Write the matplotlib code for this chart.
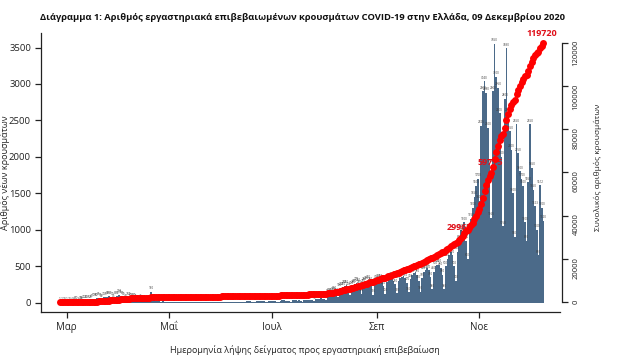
import matplotlib
matplotlib.use('Agg')
import matplotlib.pyplot as plt
import matplotlib.dates as mdates
import numpy as np
import pandas as pd

plt.rcParams['font.family'] = ['Open Sans', 'DejaVu Sans']

# ---------------- data ----------------
start_date = '2020-02-26'
end_date = '2020-12-09'

feb = [1, 2, 1, 0]
mar = [1, 2, 3, 4, 6, 8, 10, 6, 14, 18, 22, 26, 30, 35, 25, 45, 50, 55, 60, 65, 55,
       40, 70, 75, 80, 85, 80, 70, 45, 80, 90]
apr = [110, 95, 85, 70, 40, 75, 70, 60, 55, 50, 45, 25, 35, 40, 30, 25, 20, 18,
       12, 150, 25, 30, 20, 18, 15, 8, 15, 14, 12, 10]
may = [8, 6, 3, 10, 12, 9, 8, 11, 7, 4, 9, 8, 12, 10, 8, 6, 3, 7, 9, 6, 8, 10, 5,
       2, 6, 8, 7, 9, 6, 5, 3]
jun = [8, 10, 12, 9, 11, 6, 4, 10, 14, 12, 9, 11, 8, 5, 12, 15, 18, 20, 14, 10,
       6, 15, 18, 20, 22, 16, 12, 8, 18, 20]
jul = [22, 18, 20, 14, 8, 25, 30, 28, 24, 26, 18, 10, 28, 32, 30, 26, 28, 20,
       12, 30, 35, 38, 40, 36, 28, 15, 45, 50, 55, 60, 55]
aug = [45, 30, 110, 120, 130, 140, 150, 120, 80, 190, 200, 210, 230, 240, 200,
       110, 220, 240, 250, 270, 260, 230, 120, 250, 280, 290, 300, 280, 240, 110, 260]
sep = [300, 320, 310, 280, 220, 120, 280, 320, 330, 340, 300, 250, 130, 300, 340,
       350, 360, 330, 270, 140, 320, 380, 400, 420, 380, 300, 150, 330, 420, 440]
octo = [470, 440, 350, 180, 420, 500, 520, 520, 480, 380, 180, 500, 600, 650, 700,
        650, 500, 300, 700, 850, 1000, 950, 1100, 850, 600, 1000, 1150, 1300, 1450,
        1600, 1700]
nov = [1400, 2425, 2900, 3040, 2880, 2400, 1900, 1165, 2900, 3550, 3100, 2950,
       2600, 2000, 1050, 2800, 3490, 2600, 2350, 2100, 1500, 900, 2450, 2050, 1800,
       1700, 1600, 1100, 850, 1650]
dec = [2450, 1850, 1550, 1323, 1000, 650, 1612, 1300, 1120]

labelled_dates = ['2020-10-21', '2020-11-08', '2020-12-09']

month_ticks = ['2020-03-01', '2020-05-01', '2020-07-01', '2020-09-01', '2020-11-01']
month_labels = ['Μαρ', 'Μαΐ', 'Ιουλ', 'Σεπ', 'Νοε']

left_ticks = [0, 500, 1000, 1500, 2000, 2500, 3000, 3500]
right_ticks = [0, 20000, 40000, 60000, 80000, 100000, 120000]

title = 'Διάγραμμα 1: Αριθμός εργαστηριακά επιβεβαιωμένων κρουσμάτων COVID-19 στην Ελλάδα, 09 Δεκεμβρίου 2020'
xlabel = 'Ημερομηνία λήψης δείγματος προς εργαστηριακή επιβεβαίωση'
ylabel_left = 'Αριθμός νέων κρουσμάτων'
ylabel_right = 'Συνολικός αριθμός κρουσμάτων'

# ---------------- derived ----------------
daily = np.array(feb + mar + apr + may + jun + jul + aug + sep + octo + nov + dec)
dates = pd.date_range(start_date, end_date, freq='D')
cum = np.cumsum(daily)
x = mdates.date2num(dates.to_pydatetime())

BAR = '#4b6a89'
RED = '#ff0000'
LAB_RED = '#e0101a'
DARK = '#222222'

W, H = 632, 364
fig = plt.figure(figsize=(W / 100, H / 100), dpi=100)
ax = fig.add_axes([40.7 / W, 1 - 312 / H, (560 - 40.7) / W, (312 - 33) / H])

ax.bar(x, daily, width=1.0, color=BAR, linewidth=0, zorder=2)
for xi, v in zip(x, daily):
    ax.text(xi, v + 20, str(v), fontsize=2.2, ha='center', va='bottom',
            color='#3c3c3c', zorder=3)

mar1 = mdates.date2num(pd.Timestamp('2020-03-01').to_pydatetime())
ax.set_xlim(mar1 - 15.4, mar1 + 292.8)
ax.set_ylim(-130, 3699)

ax.set_yticks(left_ticks)
ax.set_yticklabels([str(t) for t in left_ticks])
ax.set_xticks([mdates.date2num(pd.Timestamp(d).to_pydatetime()) for d in month_ticks])
ax.set_xticklabels(month_labels)
ax.tick_params(axis='y', length=4, width=0.9, labelsize=6.8, pad=3, colors=DARK)
ax.tick_params(axis='x', length=4, width=0.9, labelsize=7, pad=3.5, colors=DARK)
for s in ['top', 'right']:
    ax.spines[s].set_visible(False)
for s in ['left', 'bottom']:
    ax.spines[s].set_linewidth(0.9)
    ax.spines[s].set_color(DARK)

ax2 = ax.twinx()
ax2.set_ylim(-4385, 124385)
ax2.plot(x, cum, 'o', ms=5, color=RED, mec='none', zorder=5)
for d in labelled_dates:
    i = list(dates).index(pd.Timestamp(d))
    ax2.annotate(str(cum[i]), (x[i], cum[i]), xytext=(-1, 4), textcoords='offset points',
                 ha='center', va='bottom', color=LAB_RED, fontsize=6.5,
                 fontweight='bold', zorder=4)
ax2.set_yticks(right_ticks)
ax2.set_yticklabels([str(t) for t in right_ticks])
ax2.tick_params(axis='y', length=4, width=0.9, labelsize=5.5, pad=4,
                labelrotation=90, colors=DARK)
for lab in ax2.get_yticklabels():
    lab.set_va('center')
for s in ['top', 'left', 'bottom']:
    ax2.spines[s].set_visible(False)
ax2.spines['right'].set_bounds(0, 120000)
ax2.spines['right'].set_position(('axes', 1.003))
ax2.spines['right'].set_linewidth(0.9)
ax2.spines['right'].set_color(DARK)

fig.text(40 / W, 1 - 17 / H, title, fontsize=6.75, fontweight='bold', ha='left',
         va='center', color='#111111')
fig.text(305 / W, 1 - 350 / H, xlabel, fontsize=6.5, ha='center', va='center', color=DARK)
fig.text(5 / W, 1 - 173 / H, ylabel_left, fontsize=6.5, rotation=90, ha='center',
         va='center', color=DARK)
fig.text(598 / W, 1 - 167 / H, ylabel_right, fontsize=6, rotation=90, ha='center',
         va='center', color=DARK)

fig.savefig('out.png', dpi=100)
